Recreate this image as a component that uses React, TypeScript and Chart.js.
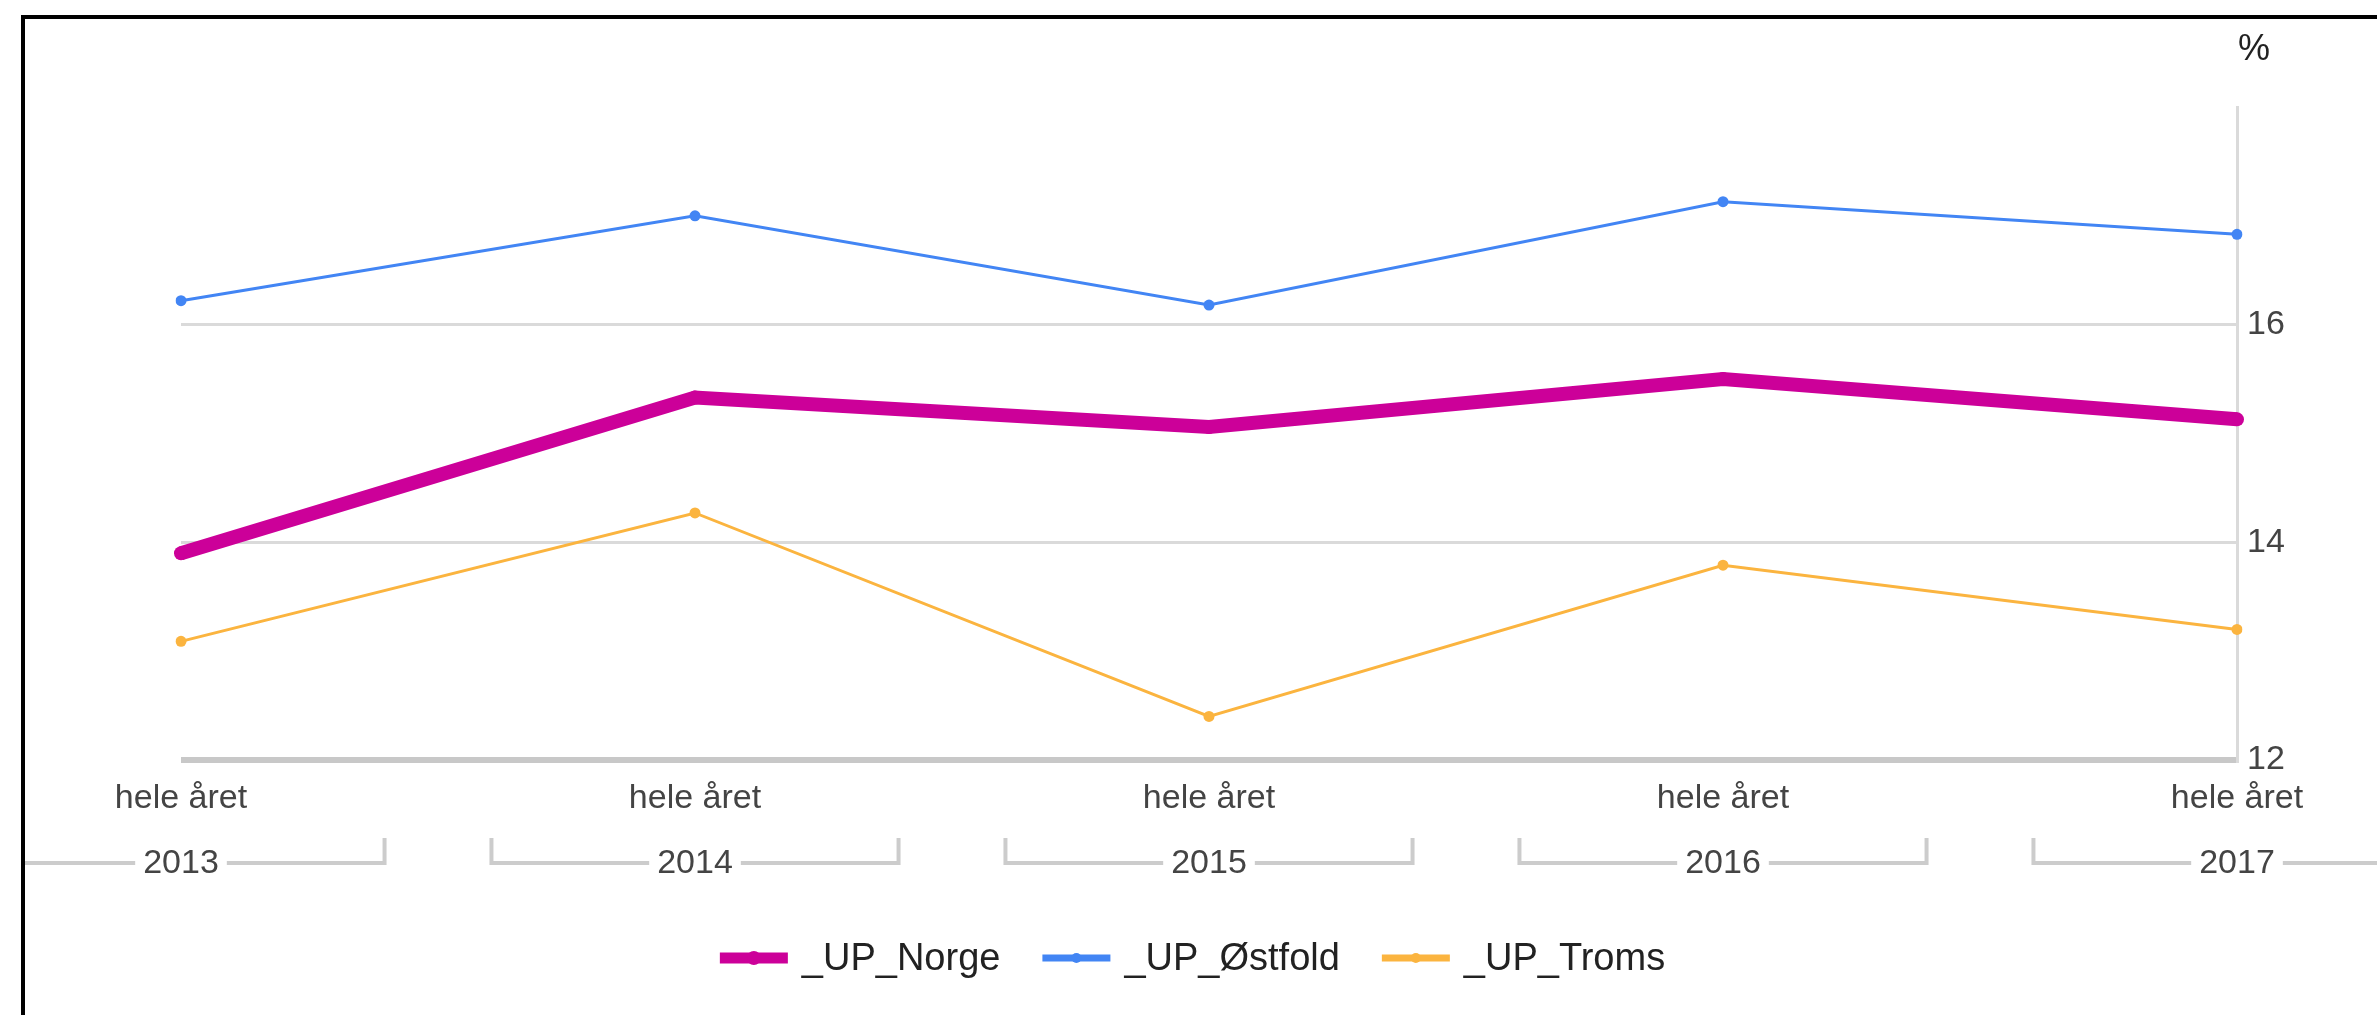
import React, { useEffect, useRef } from 'react';
import { Chart, registerables } from 'chart.js';

Chart.register(...registerables);

const years = ['2013', '2014', '2015', '2016', '2017'];
const periodLabels = ['hele året', 'hele året', 'hele året', 'hele året', 'hele året'];
const seriesNames = ['_UP_Norge', '_UP_Østfold', '_UP_Troms'];
const norge = [13.9, 15.33, 15.06, 15.5, 15.13];
const ostfold = [16.22, 17.0, 16.18, 17.13, 16.83];
const troms = [13.09, 14.27, 12.4, 13.79, 13.2];
const yMin = 12;
const yMax = 18;
const yStep = 2;
const yUnit = '%';

const seriesColors = ['#cc0099', '#4285f4', '#fbb43f'];
const seriesWidths = [14, 3, 3];

const FONT = '"Liberation Sans", Arial, sans-serif';
const W = 2377;
const H = 1015;
const FRAME_X = 21;
const FRAME_Y = 15;
const FRAME_W = 4;

const decorPlugin = {
  id: 'decor',
  beforeDraw(chart: any) {
    const { ctx } = chart;
    ctx.save();
    ctx.fillStyle = '#ffffff';
    ctx.fillRect(0, 0, chart.width, chart.height);
    ctx.restore();
  },
  afterDraw(chart: any) {
    const { ctx, chartArea, scales } = chart;
    const xs = scales.x;
    ctx.save();

    // unit label
    ctx.font = `36px ${FONT}`;
    ctx.fillStyle = '#222222';
    ctx.textAlign = 'left';
    ctx.textBaseline = 'alphabetic';
    ctx.fillText(yUnit, chartArea.right + 1, 60);

    // year group brackets
    ctx.font = `34px ${FONT}`;
    ctx.fillStyle = '#444444';
    ctx.textAlign = 'center';
    const step = xs.getPixelForValue(1) - xs.getPixelForValue(0);
    const hw = step * 0.396;
    const lineY = chartArea.bottom + 103;
    const tickTop = chartArea.bottom + 78;
    const textBase = chartArea.bottom + 113;
    const leftLimit = FRAME_X + FRAME_W;
    ctx.strokeStyle = '#cccccc';
    ctx.lineWidth = 4;
    years.forEach((yr, i) => {
      const p = xs.getPixelForValue(i);
      const tw = ctx.measureText(yr).width;
      const L = p - hw;
      const R = p + hw;
      ctx.beginPath();
      ctx.moveTo(Math.max(L, leftLimit), lineY);
      ctx.lineTo(p - tw / 2 - 8, lineY);
      ctx.moveTo(p + tw / 2 + 8, lineY);
      ctx.lineTo(Math.min(R, chart.width), lineY);
      ctx.stroke();
      if (L > leftLimit) {
        ctx.beginPath();
        ctx.moveTo(L, tickTop);
        ctx.lineTo(L, lineY + 2);
        ctx.stroke();
      }
      if (R < chart.width) {
        ctx.beginPath();
        ctx.moveTo(R, tickTop);
        ctx.lineTo(R, lineY + 2);
        ctx.stroke();
      }
      ctx.fillText(yr, p, textBase);
    });

    // legend
    ctx.font = `38px ${FONT}`;
    ctx.textAlign = 'left';
    ctx.textBaseline = 'middle';
    const sw = 68;
    const gapText = 14;
    const gapItem = 42;
    const ds = chart.data.datasets;
    const widths = ds.map((d: any) => ctx.measureText(d.label).width);
    const total =
      widths.reduce((a: number, b: number) => a + b, 0) + ds.length * (sw + gapText) + gapItem * (ds.length - 1);
    let x = chart.width / 2 + 4 - total / 2;
    const ly = 958;
    ds.forEach((d: any, i: number) => {
      ctx.fillStyle = d.borderColor;
      const th = i === 0 ? 11 : 7;
      ctx.fillRect(x, ly - th / 2, sw, th);
      ctx.beginPath();
      ctx.arc(x + sw / 2, ly, i === 0 ? 7 : 5, 0, Math.PI * 2);
      ctx.fill();
      x += sw + gapText;
      ctx.fillStyle = '#222222';
      ctx.fillText(d.label, x, ly + 2);
      x += widths[i] + gapItem;
    });

    // frame (left + top)
    ctx.fillStyle = '#000000';
    ctx.fillRect(FRAME_X, FRAME_Y, FRAME_W, chart.height - FRAME_Y);
    ctx.fillRect(FRAME_X, FRAME_Y, chart.width - FRAME_X, FRAME_W);

    ctx.restore();
  },
};

export default function App() {
  const ref = useRef<HTMLCanvasElement>(null);
  useEffect(() => {
    if (!ref.current) return;
    const values = [norge, ostfold, troms];
    const chart = new Chart(ref.current, {
      type: 'line',
      data: {
        labels: years,
        datasets: seriesNames.map((name, i) => ({
          label: name,
          data: values[i],
          borderColor: seriesColors[i],
          backgroundColor: seriesColors[i],
          pointBackgroundColor: seriesColors[i],
          pointBorderWidth: 0,
          pointRadius: i === 0 ? 7 : 5.5,
          borderWidth: seriesWidths[i],
          tension: 0,
          fill: false,
        })),
      },
      options: {
        responsive: false,
        animation: false,
        events: [],
        layout: { padding: { left: 181, top: 107, right: 0, bottom: 0 } },
        plugins: {
          legend: { display: false },
          title: { display: false },
          tooltip: { enabled: false },
        },
        scales: {
          x: {
            type: 'category',
            offset: false,
            grid: { display: false, drawTicks: false },
            border: { display: false },
            ticks: {
              autoSkip: false,
              maxRotation: 0,
              minRotation: 0,
              padding: 18,
              color: '#444444',
              font: { family: FONT, size: 34 },
              callback: (_v: any, idx: number) => periodLabels[idx],
            },
            afterFit: (scale: any) => {
              scale.height = H - 760;
              scale.paddingLeft = 0;
              scale.paddingRight = 0;
            },
          },
          y: {
            position: 'right',
            min: yMin,
            max: yMax,
            grid: {
              drawTicks: false,
              color: (c: any) =>
                c.tick && c.tick.value === yMax
                  ? 'rgba(0,0,0,0)'
                  : c.tick && c.tick.value === yMin
                  ? '#c8c8c8'
                  : '#dadada',
              lineWidth: (c: any) => (c.tick && c.tick.value === yMin ? 6 : 3),
            },
            border: { display: true, color: '#dadada', width: 3 },
            ticks: {
              stepSize: yStep,
              padding: 10,
              color: '#444444',
              font: { family: FONT, size: 34 },
              callback: (v: any) => (v === yMax ? '' : String(v)),
            },
            afterFit: (scale: any) => {
              scale.width = 140;
              scale.paddingTop = 0;
              scale.paddingBottom = 0;
            },
          },
        },
      },
      plugins: [decorPlugin],
    } as any);
    return () => chart.destroy();
  }, []);

  return (
    <div style={{ position: 'fixed', left: 0, top: 0, width: W, height: H, background: '#fff' }}>
      <canvas ref={ref} width={W} height={H} style={{ display: 'block', width: W, height: H }} />
    </div>
  );
}
